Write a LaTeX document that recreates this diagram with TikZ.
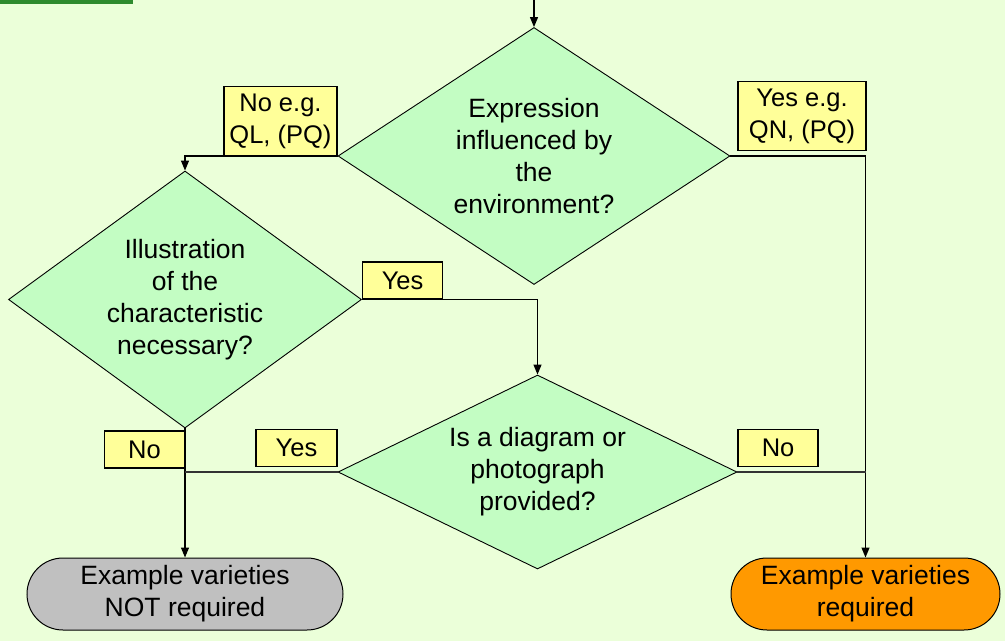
\documentclass[tikz,border=0pt]{standalone}
\usepackage{fontspec}
\setmainfont{Liberation Sans}
\usetikzlibrary{positioning, arrows.meta, shapes.geometric, shapes.misc}
\definecolor{bgc}{HTML}{EBFFD9}
\definecolor{mint}{HTML}{C3FDC3}
\definecolor{pale}{HTML}{FFFF99}
\definecolor{greyc}{HTML}{C0C0C0}
\definecolor{orangec}{HTML}{FF9900}
\definecolor{barc}{HTML}{2E8B2E}
\tikzset{
  decision/.style={diamond, draw=black, fill=mint, line width=0.9pt, aspect=1.5,
                   inner sep=0pt, align=center, font=\fontsize{26.5}{32}\selectfont},
  tagbox/.style={draw=black, fill=pale, line width=1.2pt, align=center, inner sep=2pt,
                 minimum height=37pt, font=\fontsize{25.5}{32}\selectfont},
  endbox/.style={rounded rectangle, draw=black, line width=1pt, minimum height=72pt,
                 align=center, inner sep=2pt, font=\fontsize{26.5}{32}\selectfont},
  arr/.style={-{Triangle[length=10pt,width=8pt]}, draw=black, line width=1.2pt},
  link/.style={draw=black!80, line width=1.2pt},
}
\begin{document}
\begin{tikzpicture}[x=1pt, y=-1pt]
  \fill[bgc] (0,0) rectangle (1005,641);
  \useasboundingbox (0,0) rectangle (1005,641);
  \fill[barc] (0,0) rectangle (133,4);
  \node[decision, minimum width=392pt, minimum height=257pt] (env) at (534,156)
    {Expression\\influenced by\\the\\environment?};
  \node[decision, aspect=1.4, minimum width=353pt, minimum height=257pt] (illu) at (185,299.5)
    {Illustration\\of the\\characteristic\\necessary?};
  \node[decision, aspect=2.2, minimum width=399pt, minimum height=194pt] (pic) at (537.5,472)
    {Is a diagram or\\photograph\\provided?};
  \node[endbox, fill=greyc, minimum width=320pt] (notreq) at (185,594)
    {Example varieties\\NOT required};
  \node[endbox, fill=orangec, minimum width=273pt] (req) at (865.5,594)
    {Example varieties\\required};
  \node[tagbox, minimum width=113pt, minimum height=69pt, above left=0pt and 0pt of env.west]
    (noqual) {No e.g.\\QL, (PQ)};
  \node[tagbox, minimum width=128pt, minimum height=69pt, above right=5pt and 7pt of env.east]
    (yesquant) {Yes e.g.\\QN, (PQ)};
  \node[tagbox, minimum width=80pt, above right=0pt and 0pt of illu.east] (yesillu) {Yes};
  \node[tagbox, minimum width=80pt, below left=2pt and 0pt of illu.south] (noillu) {No};
  \node[tagbox, minimum width=81pt, above left=5pt and 0pt of pic.west] (yespic) {Yes};
  \node[tagbox, minimum width=80pt, above right=5pt and 0pt of pic.east] (nopic) {No};
  \coordinate (start) at (534,0);
  \draw[arr] (start) -- (env.north);
  \draw[arr] (env.west) -| (illu.north);
  \draw[arr] (env.east) -| (req.north);
  \draw[arr] (illu.east) -| (pic.north);
  \draw[arr] (illu.south) -- (notreq.north);
  \draw[link] (pic.west) -- (pic.west -| illu.south);
  \draw[link] (pic.east) -- (pic.east -| req.north);
\end{tikzpicture}
\end{document}
